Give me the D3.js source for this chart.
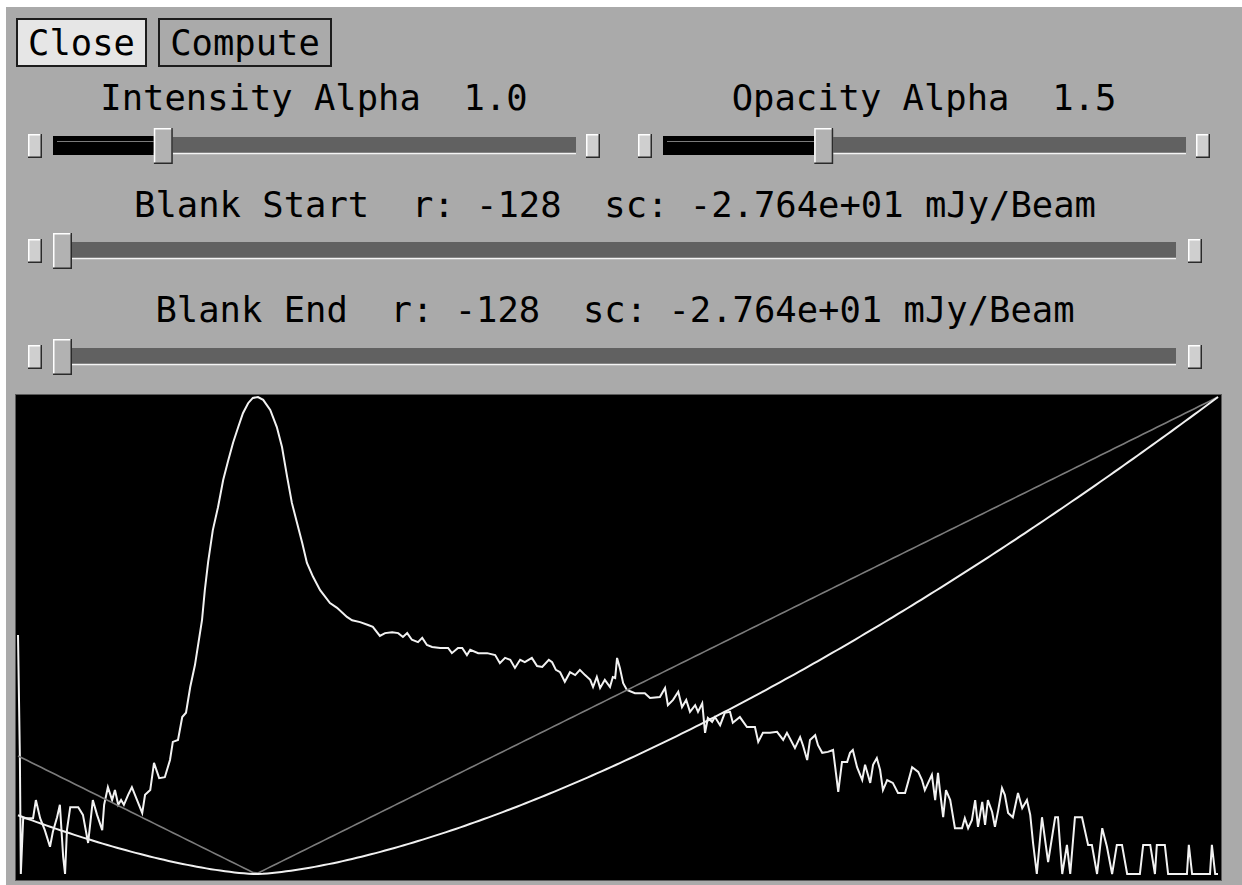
<!DOCTYPE html>
<html>
<head>
<meta charset="utf-8">
<script src="https://cdn.jsdelivr.net/npm/d3@7"></script>
<style>
  html, body { margin: 0; padding: 0; background: #ffffff; }
  svg text { font-family: "DejaVu Sans Mono", monospace; white-space: pre; }
</style>
</head>
<body>
<svg id="panel" width="1242" height="885"></svg>
<script>
// Histogram of pixel levels (level index 0..255, relative frequency 0..1)
const histLevels = [0,0.4,0.6,1.1,1.9,3.2,3.8,4.7,5.7,6.8,7.4,8.3,8.9,9.6,10.0,10.4,11.1,12.8,13.8,14.9,
  15.9,16.8,17.9,18.3,19.1,20.0,20.6,21.3,21.9,22.5,23.4,24.2,25.3,26.4,27.0,28.1,28.9,30.0,31.2,32.3,
  32.9,34.0,34.9,35.7,36.6,37.6,38.0,39.1,39.7,40.4,41.4,42.5,43.6,44.6,45.7,46.8,47.8,48.9,49.9,51.0,
  52.1,53.6,55.0,56.1,57.2,58.2,59.3,60.4,61.4,62.7,64.2,66.3,67.8,69.9,71.0,72.7,74.4,75.4,76.9,78.0,
  79.5,80.8,81.8,82.7,83.7,85.0,85.9,86.9,88.0,89.7,91.4,92.2,93.5,94.4,95.4,96.1,97.8,99.7,101.4,102.4,
  103.5,104.6,105.6,106.7,107.7,109.2,110.3,111.4,112.8,113.5,114.3,115.2,116.2,117.3,118.4,119.4,120.5,121.6,122.2,123.0,
  123.7,124.7,125.8,126.4,126.9,127.3,127.9,128.6,129.4,131.1,133.2,134.3,136.4,137.5,138.1,139.2,140.3,141.1,142.0,142.8,
  143.9,144.5,145.4,146.0,146.6,147.5,148.1,149.2,150.2,151.3,151.9,153.4,154.9,156.6,157.3,158.3,159.8,161.3,162.6,163.4,
  165.1,166.2,166.8,167.7,168.3,169.4,170.0,170.9,172.1,173.2,174.0,174.3,175.1,176.2,176.8,177.4,178.3,179.4,180.0,181.1,
  181.7,182.5,183.2,183.8,184.7,185.9,187.0,188.5,189.1,190.0,191.3,192.1,192.7,193.4,194.2,194.9,195.5,195.9,196.6,197.2,
  198.1,199.1,200.6,201.2,201.9,202.7,203.4,204.0,204.9,205.5,206.1,207.0,207.6,208.3,209.1,209.7,210.4,211.4,212.5,213.4,
  214.4,215.1,215.7,216.5,217.6,218.9,220.4,221.0,221.9,222.9,223.6,224.6,226.1,227.4,228.2,229.3,230.4,231.4,232.5,233.5,
  234.6,235.7,238.4,239.1,240.6,241.6,242.0,243.7,244.4,248.4,248.8,249.5,253.3,253.7,254.4,255];
const histCounts = [0.501,0.245,0,0.117,0.117,0.117,0.155,0.117,0.092,0.057,0.088,0.119,0.145,0.036,0,0.092,0.140,0.140,0.124,0.065,
  0.155,0.124,0.092,0.145,0.182,0.155,0.176,0.145,0.155,0.145,0.166,0.182,0.155,0.128,0.166,0.176,0.233,0.201,0.203,0.239,
  0.277,0.281,0.329,0.338,0.392,0.438,0.463,0.532,0.595,0.654,0.721,0.769,0.826,0.864,0.904,0.937,0.966,0.987,0.998,1.000,
  0.994,0.973,0.937,0.895,0.832,0.778,0.736,0.694,0.652,0.623,0.595,0.568,0.558,0.539,0.532,0.528,0.522,0.518,0.499,0.505,
  0.507,0.505,0.497,0.505,0.491,0.486,0.495,0.480,0.476,0.474,0.474,0.463,0.474,0.474,0.459,0.470,0.463,0.463,0.459,0.442,
  0.453,0.449,0.432,0.449,0.444,0.453,0.436,0.434,0.449,0.444,0.428,0.423,0.403,0.423,0.417,0.428,0.417,0.407,0.392,0.413,
  0.390,0.407,0.392,0.413,0.411,0.453,0.432,0.400,0.386,0.379,0.379,0.369,0.371,0.390,0.354,0.365,0.382,0.350,0.365,0.340,
  0.354,0.340,0.358,0.296,0.327,0.319,0.329,0.312,0.338,0.340,0.317,0.329,0.308,0.308,0.277,0.296,0.296,0.298,0.281,0.296,
  0.264,0.287,0.270,0.239,0.281,0.291,0.270,0.254,0.256,0.260,0.197,0.172,0.235,0.235,0.254,0.260,0.224,0.197,0.229,0.191,
  0.229,0.243,0.218,0.176,0.197,0.191,0.170,0.170,0.191,0.224,0.214,0.197,0.176,0.191,0.208,0.155,0.212,0.176,0.119,0.176,
  0.155,0.096,0.096,0.117,0.096,0.113,0.155,0.099,0.151,0.103,0.155,0.130,0.099,0.134,0.180,0.166,0.128,0.119,0.170,0.138,
  0.155,0.124,0.065,0,0.119,0.025,0.119,0.119,0,0.061,0,0.119,0.119,0.061,0.061,0,0.096,0.057,0,0.061,
  0.061,0,0,0.061,0.061,0,0.061,0.061,0,0,0.061,0,0,0.061,0,0];

// Transfer function settings shown on the sliders
const intensityAlpha = 1.0;
const opacityAlpha = 1.5;
const alphaRange = [0, 5];
const blankStartR = -128;
const blankEndR = -128;
const rRange = [-128, 127];
const blankScaled = "-2.764e+01";
const zeroLevel = 50.6;        // level index where the data value crosses zero
const nLevels = 256;

const svg = d3.select("#panel");

// window background and highlight edge
svg.append("rect").attr("width", 1242).attr("height", 885).attr("fill", "#ffffff");
svg.append("rect").attr("x", 6).attr("y", 7).attr("width", 1236).attr("height", 878).attr("fill", "#aaaaaa");

// ---- buttons ----
const buttons = [
  { label: "Close", x: 16, w: 131, fill: "#e6e6e6" },
  { label: "Compute", x: 158, w: 174, fill: "#aaaaaa" }
];
const btn = svg.selectAll("g.btn").data(buttons).enter().append("g").attr("class", "btn");
btn.append("rect")
  .attr("x", d => d.x + 1).attr("y", 19).attr("width", d => d.w - 2).attr("height", 47)
  .attr("fill", d => d.fill).attr("stroke", "#1c1c1c").attr("stroke-width", 2);
btn.append("text")
  .attr("x", d => d.x + d.w / 2).attr("y", 55)
  .attr("text-anchor", "middle").attr("font-size", 35.5).attr("fill", "#000")
  .text(d => d.label);

// ---- sliders ----
const sliders = [
  { label: `Intensity Alpha  ${intensityAlpha.toFixed(1)}`, value: intensityAlpha, domain: alphaRange,
    left: 28, right: 600, troughL: 53, troughR: 576, base: 110, cy: 146, filled: true },
  { label: `Opacity Alpha  ${opacityAlpha.toFixed(1)}`, value: opacityAlpha, domain: alphaRange,
    left: 638, right: 1210, troughL: 663, troughR: 1186, base: 110, cy: 146, filled: true },
  { label: `Blank Start  r: ${blankStartR}  sc: ${blankScaled} mJy/Beam`, value: blankStartR, domain: rRange,
    left: 28, right: 1202, troughL: 53, troughR: 1176, base: 217, cy: 251, filled: false },
  { label: `Blank End  r: ${blankEndR}  sc: ${blankScaled} mJy/Beam`, value: blankEndR, domain: rRange,
    left: 28, right: 1202, troughL: 53, troughR: 1176, base: 322, cy: 357, filled: false }
];

function bevelBox(g, x, y, w, h, fill) {
  g.append("rect").attr("x", x).attr("y", y).attr("width", w).attr("height", h).attr("fill", fill);
  g.append("path").attr("d", `M${x + 0.75},${y + h} V${y + 0.75} H${x + w}`)
    .attr("fill", "none").attr("stroke", "#ffffff").attr("stroke-width", 1.5);
  g.append("path").attr("d", `M${x},${y + h - 0.75} H${x + w - 0.75} V${y}`)
    .attr("fill", "none").attr("stroke", "#2a2a2a").attr("stroke-width", 1.5);
}

const thumbW = 19;
sliders.forEach(s => {
  const g = svg.append("g");
  g.append("text")
    .attr("x", (s.left + s.right) / 2).attr("y", s.base)
    .attr("text-anchor", "middle").attr("font-size", 35.5).attr("fill", "#000")
    .text(s.label);

  // end stops
  bevelBox(g, s.left, s.cy - 12, 14, 24, "#cfcfcf");
  bevelBox(g, s.right - 14, s.cy - 12, 14, 24, "#cfcfcf");

  // trough
  const pos = d3.scaleLinear().domain(s.domain).range([s.troughL, s.troughR - thumbW]);
  const tx = pos(s.value);
  g.append("rect").attr("x", s.troughL).attr("y", s.cy - 9).attr("width", s.troughR - s.troughL).attr("height", 16)
    .attr("fill", "#616161");
  g.append("line").attr("x1", s.troughL).attr("x2", s.troughR).attr("y1", s.cy + 7.5).attr("y2", s.cy + 7.5)
    .attr("stroke", "#f4f4f4").attr("stroke-width", 1.5);
  if (s.filled) {
    g.append("rect").attr("x", s.troughL).attr("y", s.cy - 10).attr("width", tx - s.troughL).attr("height", 19)
      .attr("fill", "#000");
    g.append("line").attr("x1", s.troughL + 4).attr("x2", tx).attr("y1", s.cy - 4.5).attr("y2", s.cy - 4.5)
      .attr("stroke", "#7a7a7a").attr("stroke-width", 1.2);
  }
  // thumb
  bevelBox(g, tx, s.cy - 18, thumbW, 36, "#b2b2b2");
});

// ---- histogram / transfer function plot ----
const plot = { x: 15, y: 394, w: 1207, h: 487 };
svg.append("rect").attr("x", plot.x + 0.5).attr("y", plot.y + 0.5)
  .attr("width", plot.w - 1).attr("height", plot.h - 1)
  .attr("fill", "#000").attr("stroke", "#5a5a5a").attr("stroke-width", 1);

const x = d3.scaleLinear().domain([0, nLevels - 1]).range([18, 1218]);
const y = d3.scaleLinear().domain([0, 1]).range([874, 397]);

const levels = d3.range(nLevels);
const transfer = alpha => levels.map(l => {
  const u = Math.abs(l - zeroLevel) / (nLevels - 1 - zeroLevel);
  return [l, Math.pow(u, alpha)];
});

const line = d3.line().x(d => x(d[0])).y(d => y(d[1]));
const histData = histLevels.map((l, i) => [l, histCounts[i]]);

svg.append("path").datum(histData).attr("d", line)
  .attr("fill", "none").attr("stroke", "#f2f2f2").attr("stroke-width", 2).attr("stroke-linejoin", "miter");

svg.append("path").datum(transfer(intensityAlpha)).attr("d", line)
  .attr("fill", "none").attr("stroke", "#7c7c7c").attr("stroke-width", 1.6);

svg.append("path").datum(transfer(opacityAlpha)).attr("d", line)
  .attr("fill", "none").attr("stroke", "#f0f0f0").attr("stroke-width", 2);
</script>
</body>
</html>
